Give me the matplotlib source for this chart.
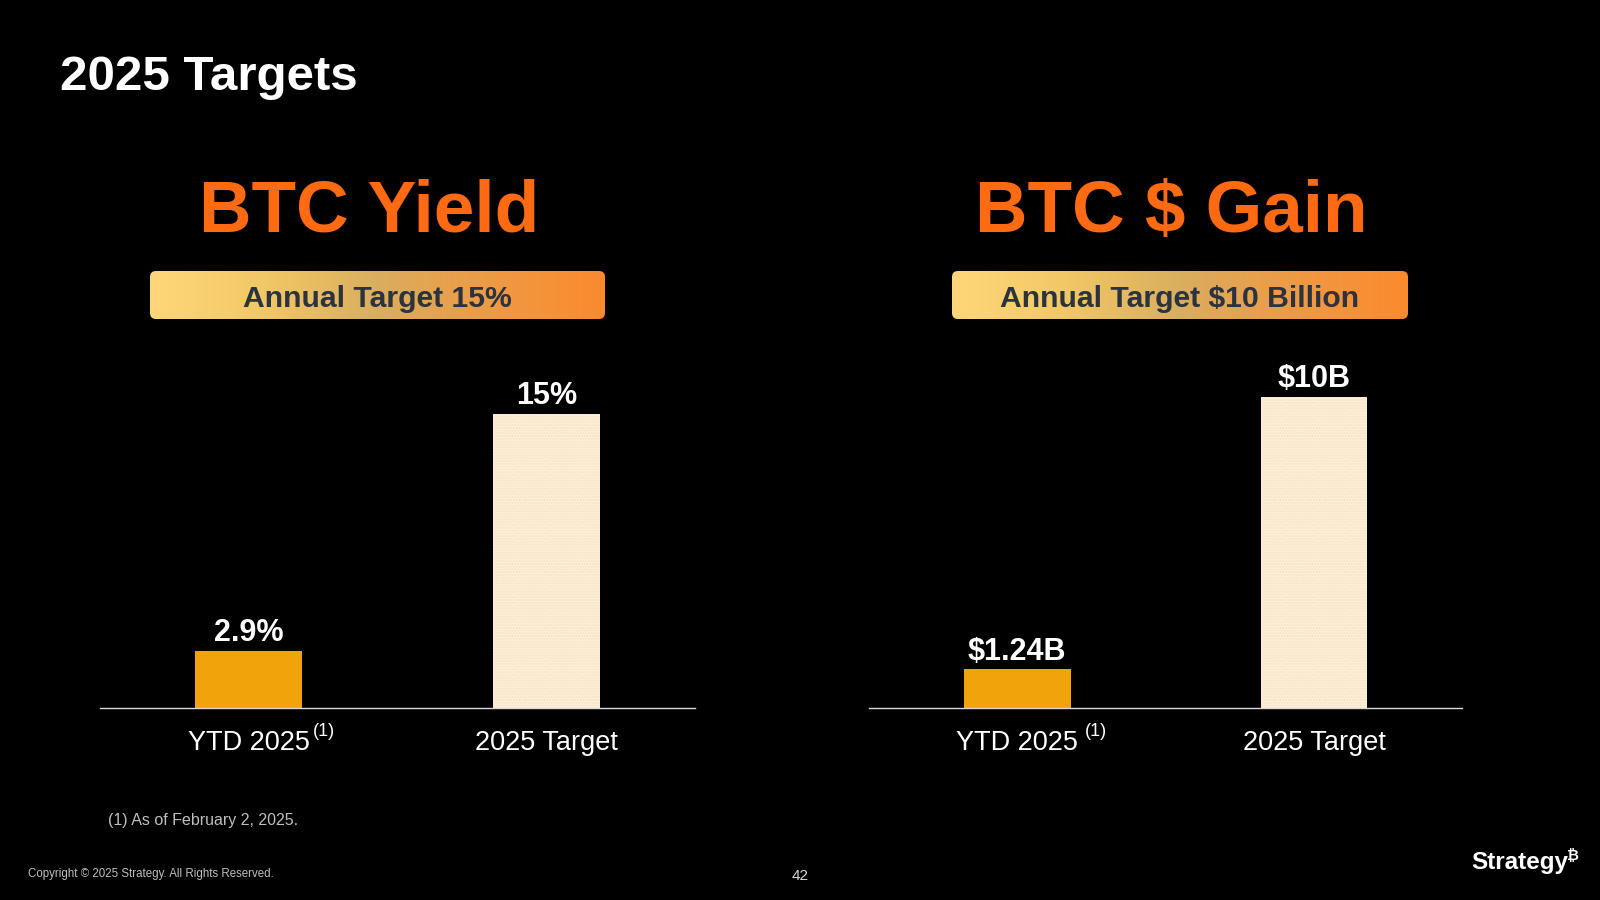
import numpy as np
import matplotlib
matplotlib.use("Agg")
import matplotlib.pyplot as plt
from matplotlib.patches import FancyBboxPatch
from matplotlib.colors import LinearSegmentedColormap

plt.rcParams['font.family'] = ['Liberation Sans', 'DejaVu Sans']

# 数据
categories = ["YTD 2025", "2025 Target"]
yield_values = [2.9, 15]
yield_labels = ["2.9%", "15%"]
gain_values = [1.24, 10]
gain_labels = ["$1.24B", "$10B"]
panel_titles = ["BTC Yield", "BTC $ Gain"]
banner_texts = ["Annual Target 15%", "Annual Target $10 Billion"]

ORANGE = '#FF6A13'
BAR_YTD = '#F0A30A'
BAR_TGT = '#FDF0DA'

fig = plt.figure(figsize=(16, 9), dpi=100, facecolor='black')

# 背景层（像素坐标）
bg = fig.add_axes([0, 0, 1, 1])
bg.set_xlim(0, 1600)
bg.set_ylim(900, 0)
bg.axis('off')
bg.set_facecolor('black')

bg.text(60, 77, "2025 Targets", color='white', fontsize=35.5, fontweight='bold', va='center', ha='left')

grad_cmap = LinearSegmentedColormap.from_list('g', ['#FFD77A', '#F2C766', '#D9AE5E', '#EE9A45', '#FB8A2E'])
grad = np.linspace(0, 1, 256).reshape(1, -1)

def draw_banner(x0, x1, y0, y1, text):
    box = FancyBboxPatch((x0, y0), x1 - x0, y1 - y0, boxstyle="round,pad=0,rounding_size=6",
                         facecolor='none', edgecolor='none')
    bg.add_patch(box)
    im = bg.imshow(grad, cmap=grad_cmap, extent=(x0, x1, y1, y0), aspect='auto', zorder=1)
    im.set_clip_path(box)
    bg.text((x0 + x1) / 2, (y0 + y1) / 2 + 4, text, color='#2B3240', fontsize=21.7, fontweight='bold',
            ha='center', va='center', zorder=2)

# 两个面板
panels = [
    dict(pos=[0.0625, 0.2133, 0.372, 0.3556], vals=yield_values, labels=yield_labels, ymax=16.33,
         title_x=369, banner=(150, 605)),
    dict(pos=[0.543, 0.2133, 0.371, 0.3556], vals=gain_values, labels=gain_labels, ymax=10.29,
         title_x=1171, banner=(952, 1408)),
]

bg.set_xlim(0, 1600)
bg.set_ylim(900, 0)

for i, p in enumerate(panels):
    bg.text(p['title_x'], 213, panel_titles[i], color=ORANGE, fontsize=52.5, fontweight='bold',
            ha='center', va='center')
    draw_banner(p['banner'][0], p['banner'][1], 271, 319, banner_texts[i])

    ax = fig.add_axes(p['pos'])
    ax.set_facecolor('none')
    x = np.arange(len(categories))
    bars = ax.bar(x, p['vals'], width=0.36, color=[BAR_YTD, BAR_TGT], linewidth=0)
    bars[1].set_hatch('......')
    bars[1].set_edgecolor('#F7E2C2')
    ax.set_xlim(-0.5, 1.5)
    ax.set_ylim(0, p['ymax'])
    for b, lab in zip(bars, p['labels']):
        ax.annotate(lab, (b.get_x() + b.get_width() / 2, b.get_height()), xytext=(0, 2),
                    textcoords='offset points', ha='center', va='bottom', color='white',
                    fontsize=22, fontweight='bold')
    for s in ['top', 'right', 'left']:
        ax.spines[s].set_visible(False)
    ax.spines['bottom'].set_color('#D9D9D9')
    ax.spines['bottom'].set_linewidth(1)
    ax.set_yticks([])
    ax.set_xticks(x)
    ax.set_xticklabels(categories, color='white', fontsize=19.5)
    ax.tick_params(axis='x', length=0, pad=16)
    ytd_label = ax.get_xticklabels()[0]
    ax.annotate("(1)", xy=(1, 1), xycoords=ytd_label, xytext=(2 + 3 * i, 5), textcoords='offset points',
                ha='left', va='top', color='white', fontsize=13)

bg.set_zorder(0)

bg.text(108, 820, "(1) As of February 2, 2025.", color='#BFBFBF', fontsize=11.5, ha='left', va='center')
bg.text(28, 874, "Copyright © 2025 Strategy. All Rights Reserved.", color='#BFBFBF', fontsize=8.3,
        ha='left', va='center')
bg.text(800, 876, "42", color='#D9D9D9', fontsize=11, ha='center', va='center')
logo = bg.text(1471, 862, "Strategy", color='white', fontsize=17.5, fontweight='bold', ha='left',
               va='center')
bg.annotate("\u20bf", xy=(1, 1), xycoords=logo, xytext=(-1, 1), textcoords='offset points',
            color='white', fontsize=10.5, fontweight='bold', ha='left', va='top',
            family=['Liberation Sans', 'DejaVu Sans'])

fig.savefig("out.png", dpi=100, facecolor='black')
